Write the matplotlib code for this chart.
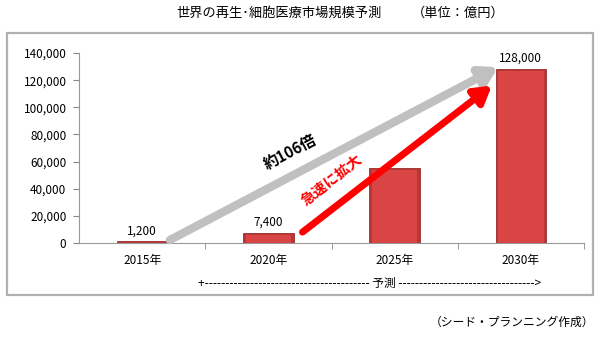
import matplotlib.pyplot as plt
from matplotlib.patches import Rectangle
import numpy as np

plt.rcParams['font.family'] = ['Noto Sans CJK JP', 'DejaVu Sans']

# market size forecast (unit: 100 million yen)
years = ['2015年', '2020年', '2025年', '2030年']
values = [1200, 7400, 55000, 128000]
value_labels = ['1,200', '7,400', '', '128,000']
yticks = [0, 20000, 40000, 60000, 80000, 100000, 120000, 140000]

fig = plt.figure(figsize=(6.01, 3.37), dpi=100)

# outer chart frame
fig.patches.append(Rectangle((7/601, 1-295/337), 586/601, 262/337,
                             transform=fig.transFigure, fill=False,
                             edgecolor='#b0b0b0', lw=1.6))

ax = fig.add_axes([79/601, 1-243/337, 505/601, 190/337])
x = np.arange(len(years))

ax.bar(x, values, width=0.40, color='#b93636', edgecolor='#9a2a2a', lw=0.6, zorder=2)
# lighter inner face for the bevelled look
inner = [max(v - 1500, 0) for v in values]
ax.bar(x, inner, width=0.36, color='#d94444', lw=0, zorder=3)

for xi, v, lab in zip(x, values, value_labels):
    if lab:
        ax.annotate(lab, (xi, v), xytext=(0, 3), textcoords='offset points',
                    ha='center', va='bottom', fontsize=8.5)

ax.set_xlim(-0.5, 3.5)
ax.set_ylim(0, 140000)
ax.set_yticks(yticks)
ax.set_yticklabels([f'{t:,}' for t in yticks], fontsize=8.5)
ax.set_xticks(x)
ax.set_xticklabels(years, fontsize=8.5)
ax.set_xticks(np.arange(0.5, 4, 1), minor=True)
ax.tick_params(axis='x', which='major', length=0, pad=8)
ax.tick_params(axis='x', which='minor', length=4, color='#888888', direction='out')
ax.tick_params(axis='y', length=4, color='#888888', pad=5)
for s in ['top', 'right']:
    ax.spines[s].set_visible(False)
for s in ['left', 'bottom']:
    ax.spines[s].set_color('#999999')

# growth arrows
ax.annotate('', xy=(2.82, 129500), xytext=(0.22, 2200),
            arrowprops=dict(arrowstyle='-|>,head_length=1.0,head_width=0.6',
                            color='#c0c0c0', lw=6, shrinkA=0, shrinkB=0), zorder=4)
ax.annotate('', xy=(2.77, 116000), xytext=(1.27, 8000),
            arrowprops=dict(arrowstyle='-|>,head_length=1.0,head_width=0.6',
                            color='#ff0000', lw=5, shrinkA=0, shrinkB=0), zorder=5)
ax.text(1.17, 67000, '約106倍', rotation=28, ha='center', va='center',
        fontsize=11, fontweight='bold', zorder=6)
ax.text(1.50, 47000, '急速に拡大', rotation=38, ha='center', va='center',
        fontsize=10.5, fontweight='bold', color='#ff0000', zorder=6)

fig.text(279/601, 1-13/337, '世界の再生･細胞医療市場規模予測', ha='center', va='center', fontsize=9.5)
fig.text(458/601, 1-13/337, '（単位：億円）', ha='center', va='center', fontsize=9.5)
fig.text(370/601, 1-283/337,
         '+' + '-' * 40 + ' 予測 ' + '-' * 32 + '->',
         ha='center', va='center', fontsize=8.5)
fig.text(594/601, 1-322/337, '（シード・プランニング作成）', ha='right', va='center', fontsize=8.5)

fig.savefig('out.png', dpi=100)
